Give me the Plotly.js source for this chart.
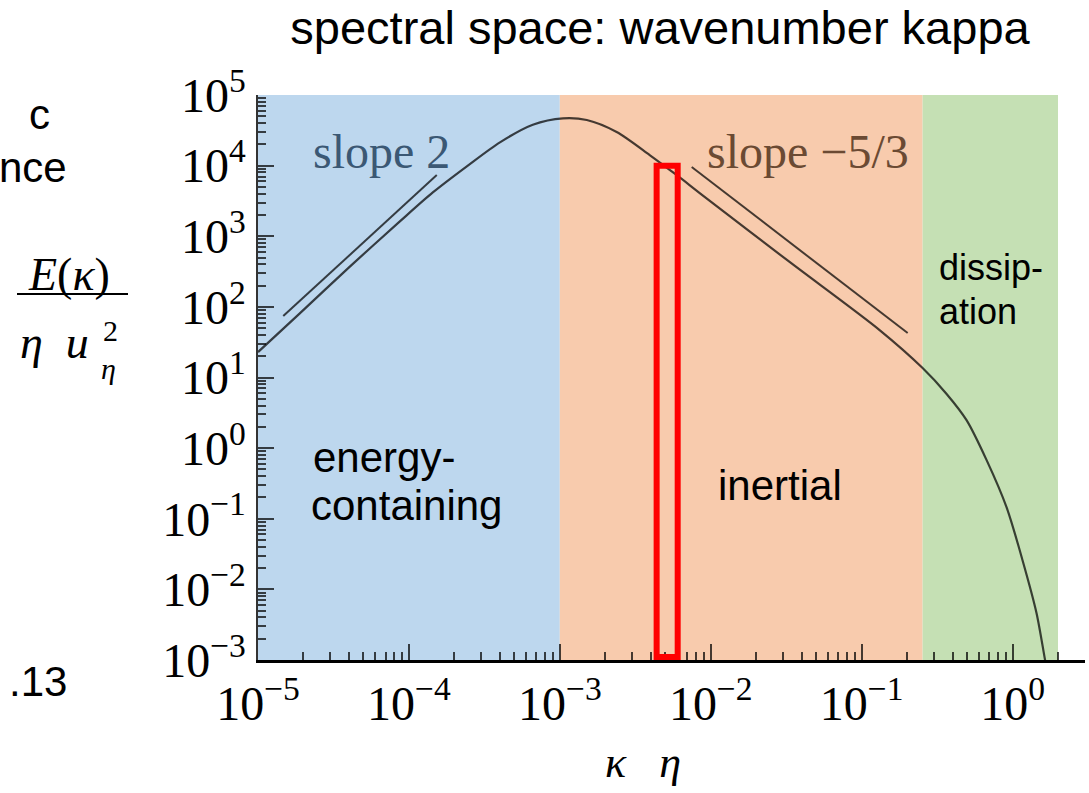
<!DOCTYPE html>
<html><head><meta charset="utf-8">
<script src="https://cdn.plot.ly/plotly-3.0.1.min.js"></script>
<style>
html,body{margin:0;padding:0;background:#fff;}
#chart{width:1089px;height:793px;}
</style></head><body><div id="chart"></div>
<script>
// ---- data ----
const kappa  = [1.0e-5, 1.9e-5, 4.06e-5, 8.71e-5, 1.44e-4, 2.42e-4, 4.01e-4, 6.62e-4, 1.05e-3, 1.51e-3, 2.38e-3, 3.94e-3, 5.96e-3, 8.45e-3, 0.0333, 0.1315, 0.2535, 0.3656, 0.4955, 0.673, 0.912, 1.164, 1.442, 1.629, 1.69];
const energy = [22.9, 81.7, 372, 1622, 4169, 9770, 21380, 38020, 46770, 44260, 29920, 14130, 7311, 4093, 432, 46.9, 13.6, 5.85, 2.49, 0.676, 0.146, 0.0259, 0.0046, 0.0011, 0.00071];

const slope2Kappa  = [1.47e-5, 1.53e-4];
const slope2E      = [74, 7360];
const slope53Kappa = [7.48e-3, 0.2018];
const slope53E     = [9550, 42.6];

const regionNames  = ['energy-containing', 'inertial', 'dissipation'];
const regionStart  = [1e-5, 1e-3, 0.2535];
const regionEnd    = [1e-3, 0.2535, 2.0];
const regionColors = ['#BDD7EE', '#F8CBAD', '#C5E0B4'];

const highlightKappa = [4.38e-3, 6.04e-3];
const highlightE     = [1.1e-3, 1.0e4];

const xExponents = [-5, -4, -3, -2, -1, 0];
const yExponents = [-3, -2, -1, 0, 1, 2, 3, 4, 5];
const xTickVals = xExponents.map(e => Math.pow(10, e));
const yTickVals = yExponents.map(e => Math.pow(10, e));
const xTickText = xExponents.map(e => '10<sup>' + (e < 0 ? '\u2212' + (-e) : e) + '</sup>');
const yTickText = yExponents.map(e => '10<sup>' + (e < 0 ? '\u2212' + (-e) : e) + '</sup>');

function minorVals(d0, d1, maxV) {
  const out = [];
  for (let d = d0; d <= d1; d++) for (let m = 2; m <= 9; m++) {
    const v = m * Math.pow(10, d);
    if (v <= maxV) out.push(v);
  }
  return out;
}
const xMinor = minorVals(-5, 0, 3.02);
const yMinor = minorVals(-3, 4, 1e5);

// ---- geometry helpers (pixel -> paper) ----
const L = 258, T = 95, W = 827, H = 565;
const px = x => (x - L) / W;
const py = y => (T + H - y) / H;

const serif = 'Liberation Serif, Times New Roman, serif';
const sans = 'Liberation Sans, Arial, sans-serif';
const tickCol = 'rgba(0,0,0,0.72)';
const lineCol = 'rgba(0,0,0,0.72)';

const traces = [
  {x: kappa, y: energy, type: 'scatter', mode: 'lines', line: {color: lineCol, width: 2.2, shape: 'spline', smoothing: 0.8}, hoverinfo: 'skip'},
  {x: slope2Kappa, y: slope2E, type: 'scatter', mode: 'lines', line: {color: lineCol, width: 2}, hoverinfo: 'skip'},
  {x: slope53Kappa, y: slope53E, type: 'scatter', mode: 'lines', line: {color: lineCol, width: 2}, hoverinfo: 'skip'}
];

const shapes = regionStart.map((s, i) => ({
  type: 'rect', xref: 'x', yref: 'paper', x0: s, x1: regionEnd[i], y0: 0, y1: 1,
  fillcolor: regionColors[i], line: {width: 0}, layer: 'below', name: regionNames[i]
}));
shapes.push({type: 'rect', xref: 'x', yref: 'y', x0: highlightKappa[0], x1: highlightKappa[1],
  y0: highlightE[0], y1: highlightE[1], line: {color: '#FF0000', width: 6}, fillcolor: 'rgba(0,0,0,0)', layer: 'above'});
shapes.push({type: 'line', xref: 'paper', yref: 'paper', x0: px(17), x1: px(128), y0: py(294), y1: py(294),
  line: {color: '#000', width: 2}, layer: 'above'});

function ann(text, x, y, size, family, color, xanchor) {
  return {text: text, xref: 'paper', yref: 'paper', x: px(x), y: py(y), showarrow: false,
    xanchor: xanchor || 'center', yanchor: 'middle', font: {size: size, family: family, color: color || '#000'}};
}

const annotations = [
  ann('slope 2', 381, 152, 48, serif, '#3b5874'),
  ann('slope \u22125/3', 808, 152, 48, serif, '#6b4a33'),
  ann('energy-', 311, 457, 42, sans, '#000', 'left'),
  ann('containing', 309, 505, 42, sans, '#000', 'left'),
  ann('inertial', 780, 485, 42, sans),
  ann('dissip-', 937, 267, 36, sans, '#000', 'left'),
  ann('ation', 937, 311, 36, sans, '#000', 'left'),
  ann('c', 52, 114, 42, sans, '#000', 'right'),
  ann('nce', 69, 167, 42, sans, '#000', 'right'),
  ann('.13', 69, 681, 42, sans, '#000', 'right'),
  ann('<i>E</i>(<i>\u03ba</i>)', 69, 274, 46, serif),
  ann('<i>\u03b7</i>\u00a0\u00a0<i>u</i>', 54, 342, 46, serif),
  ann('2', 110, 330, 30, serif),
  ann('<i>\u03b7</i>', 108, 368, 30, serif),
  ann('<i>\u03ba</i>\u00a0\u00a0\u00a0<i>\u03b7</i>', 643, 762, 44, serif)
];

const axisCommon = {
  type: 'log', showgrid: false, zeroline: false, showline: true, linewidth: 2.5,
  ticks: 'inside', ticklen: 16, tickwidth: 2, tickcolor: tickCol, tickmode: 'array',
  tickfont: {family: serif, size: 48, color: '#000'},
  minor: {ticks: 'inside', ticklen: 8, tickwidth: 2, tickcolor: tickCol, tickmode: 'array', showgrid: false}
};

const layout = {
  width: 1089, height: 793,
  margin: {l: L, r: 1089 - L - W, t: T, b: 793 - T - H, pad: 0},
  paper_bgcolor: '#fff', plot_bgcolor: '#fff',
  showlegend: false, hovermode: false,
  title: {text: 'spectral space: wavenumber kappa', x: px(660), xanchor: 'center', xref: 'paper',
    y: 1 - 28 / 793, yref: 'container', yanchor: 'middle', font: {family: sans, size: 47, color: '#000'}},
  xaxis: Object.assign({}, axisCommon, {range: [-5, 0.48], linecolor: '#000', tickvals: xTickVals, ticktext: xTickText,
    minor: Object.assign({}, axisCommon.minor, {tickvals: xMinor})}),
  yaxis: Object.assign({}, axisCommon, {range: [-3, 5], linecolor: 'rgba(0,0,0,0.8)', tickvals: yTickVals, ticktext: yTickText,
    minor: Object.assign({}, axisCommon.minor, {tickvals: yMinor})}),
  shapes: shapes,
  annotations: annotations
};

Plotly.newPlot('chart', traces, layout, {staticPlot: true, displayModeBar: false});
</script></body></html>
